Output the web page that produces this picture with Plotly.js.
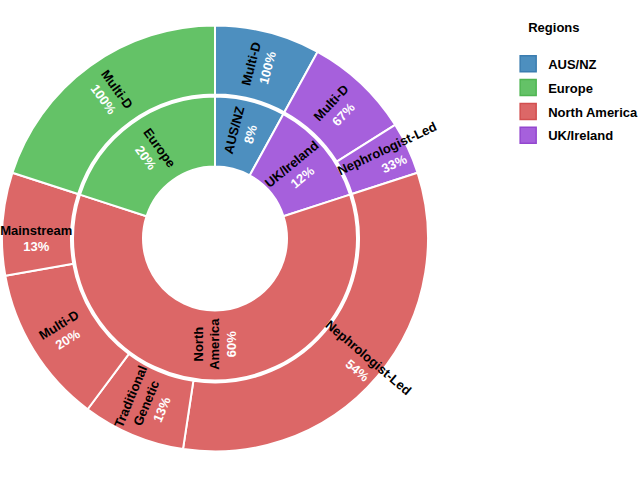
<!DOCTYPE html>
<html>
<head>
<meta charset="utf-8">
<script src="https://cdn.plot.ly/plotly-3.0.1.min.js"></script>
<style>html,body{margin:0;padding:0;background:#fff;}#chart{width:640px;height:480px;}</style>
</head>
<body>
<div id="chart"></div>
<script>
// Inner ring: regions (clockwise from 12 o'clock)
const regions = ['AUS/NZ', 'UK/Ireland', 'North America', 'Europe'];
const regionText = ['AUS/NZ', 'UK/Ireland', 'North<br>America', 'Europe'];
const regionPct = [8, 12, 60, 20];
const regionColors = ['#4d8fbf', '#a660dc', '#dc6767', '#64c267'];
const regionLineColors = ['#3b7db0', '#9347cf', '#d24f4f', '#4fb552'];

// Outer ring: approaches within each region (share of parent, %)
const outerParent = ['AUS/NZ', 'UK/Ireland', 'UK/Ireland', 'North America', 'North America', 'North America', 'North America', 'Europe'];
const outerLabels = ['Multi-D', 'Multi-D', 'Nephrologist-Led', 'Nephrologist-Led', 'Traditional<br>Genetic', 'Multi-D', 'Mainstream', 'Multi-D'];
const outerPctOfParent = [100, 67, 33, 54, 13, 20, 13, 100];

// Legend
const legendNames = ['AUS/NZ', 'Europe', 'North America', 'UK/Ireland'];
const legendTitle = 'Regions';

const FONT = 'Arial, "Liberation Sans", sans-serif';
const FSIZE = 13;
const colorOf = r => regionColors[regions.indexOf(r)];
const lineOf = r => regionLineColors[regions.indexOf(r)];

const outerValues = outerPctOfParent.map((p, i) => regionPct[regions.indexOf(outerParent[i])] * p / 100);
const outerIds = outerLabels.map((l, i) => outerParent[i] + ' / ' + l.replace('<br>', ' '));

const TMPL = "%{text}<br><span style='color:white'>%{customdata}</span>";

const center = {x: 215, y: 241.5}; // px from left / bottom
const W = 640, H = 480;
function dom(r) {
  return {x: [(center.x - r) / W, (center.x + r) / W], y: [(center.y - r) / H, (center.y + r) / H]};
}
const RING = {inner: {r: 142, r0: 72}, outer: {r: 213, r0: 144}};

const ctx = document.createElement('canvas').getContext('2d');
ctx.font = 'bold ' + FSIZE + 'px ' + FONT;
const textWidth = s => Math.max(...s.split('<br>').map(t => ctx.measureText(t).width));

// Colour layer of one ring (no text)
function colourPie(ids, values, colors, ring) {
  return {
    type: 'pie', labels: ids, values: values,
    textinfo: 'none', sort: false, direction: 'clockwise', rotation: 0,
    hole: ring.r0 / ring.r, domain: dom(ring.r),
    marker: {colors: colors, line: {color: 'white', width: 2}},
    showlegend: false, hoverinfo: 'none'
  };
}

// Text layer of one ring. A label that is longer than the ring is wide starts near
// the inner edge of the ring; a slice that spans the 3 / 9 o'clock line far from
// its middle keeps its label on a sub-arc centred on the slice middle.
function textPies(name, values, texts, pcts, ring) {
  const total = values.reduce((a, b) => a + b, 0);
  const degToVal = total / 360;
  const mid0 = (ring.r + ring.r0) / 2;
  const centres = texts.map(t => Math.max(mid0, ring.r0 + textWidth(t) / 2 - 4));
  const groups = [...new Set(centres.map(c => Math.round(c)))];
  return groups.map((g, gi) => {
    const vals = [], txt = [], cds = [], tmpl = [], ids = [];
    let start = 0;
    values.forEach((v, i) => {
      const stop = start + v / degToVal;
      const mid = (start + stop) / 2;
      const mine = Math.round(centres[i]) === g;
      const far = [90, 270].filter(f => f > start && f < stop && Math.abs(mid - f) > 10);
      const add = (val, withText) => {
        ids.push(name + gi + '-' + ids.length);
        vals.push(val);
        txt.push(withText ? texts[i] : '');
        cds.push(withText ? pcts[i] + '%' : '');
        tmpl.push(withText ? TMPL : '');
      };
      if (!mine) {
        add(v, false);
      } else if (!far.length) {
        add(v, true);
      } else {
        const hw = Math.min(...far.map(f => Math.abs(mid - f))) - 0.5;
        add((mid - hw - start) * degToVal, false);
        add(2 * hw * degToVal, true);
        add((stop - (mid + hw)) * degToVal, false);
      }
      start = stop;
    });
    return {
      type: 'pie', labels: ids, values: vals, text: txt, customdata: cds,
      texttemplate: tmpl, textinfo: 'none',
      textposition: 'inside', insidetextorientation: 'radial',
      textfont: {family: FONT, size: FSIZE, color: 'black', weight: 'bold'},
      sort: false, direction: 'clockwise', rotation: 0,
      hole: (2 * g - ring.r) / ring.r, domain: dom(ring.r),
      marker: {colors: vals.map(() => 'rgba(0,0,0,0)'), line: {width: 0}},
      showlegend: false, hoverinfo: 'none'
    };
  });
}

const traces = [
  colourPie(regions, regionPct, regionColors, RING.inner),
  colourPie(outerIds, outerValues, outerParent.map(colorOf), RING.outer)
].concat(
  textPies('inner', regionPct, regionText, regionPct, RING.inner),
  textPies('outer', outerValues, outerLabels, outerPctOfParent, RING.outer)
);

const legendTraces = legendNames.map((n, i) => ({
  type: 'scatter',
  mode: 'markers',
  x: [null], y: [null],
  name: n,
  legendgroup: 'g' + i,
  marker: {symbol: 'square', size: 16, color: colorOf(n), line: {color: lineOf(n), width: 1.5}},
  hoverinfo: 'none'
}));

const layout = {
  width: 640, height: 480,
  margin: {l: 0, r: 0, t: 0, b: 0, autoexpand: false},
  paper_bgcolor: 'white', plot_bgcolor: 'white',
  font: {family: FONT, size: FSIZE, color: 'black'},
  xaxis: {visible: false}, yaxis: {visible: false},
  showlegend: true,
  legend: {
    x: 0.794, y: 0.969, xanchor: 'left', yanchor: 'top',
    traceorder: 'grouped', tracegroupgap: 4,
    title: {text: '&nbsp;&nbsp;&nbsp;&nbsp;&nbsp;' + legendTitle + '<br> ', font: {family: FONT, size: FSIZE, weight: 'bold'}},
    font: {family: FONT, size: FSIZE, weight: 'bold', color: 'black'},
    bgcolor: 'rgba(0,0,0,0)'
  },
  uniformtext: {mode: 'show', minsize: FSIZE}
};

Plotly.newPlot('chart', traces.concat(legendTraces), layout, {displayModeBar: false, staticPlot: true});
</script>
</body>
</html>
